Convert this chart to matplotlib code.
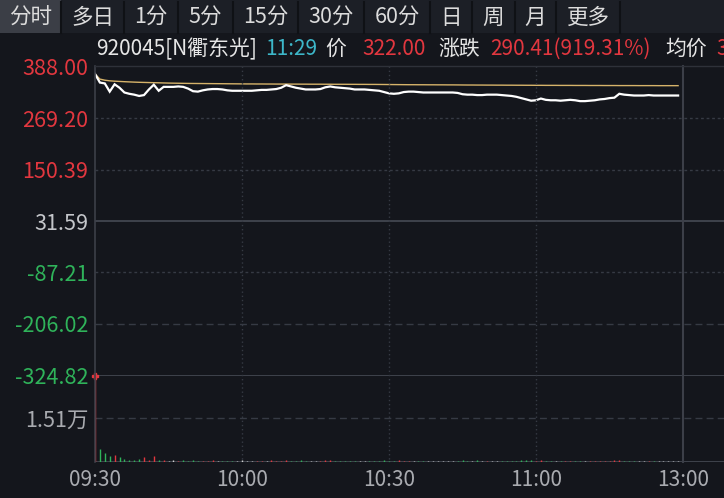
import matplotlib
matplotlib.use("Agg")
import matplotlib.pyplot as plt
from matplotlib.patches import Rectangle
from matplotlib.lines import Line2D

plt.rcParams['font.family'] = ['Noto Sans CJK SC', 'DejaVu Sans']

# ---------------- data ----------------
prev_close = 31.59
y_levels = [388.00, 269.20, 150.39, 31.59, -87.21, -206.02, -324.82]
y_labels = ["388.00", "269.20", "150.39", "31.59", "-87.21", "-206.02", "-324.82"]
vol_max = 30200
vol_tick = 15100
vol_tick_label = "1.51万"
time_ticks = [0, 30, 60, 90, 120]
time_labels = ["09:30", "10:00", "10:30", "11:00", "13:00"]

tabs = ["分时", "多日", "1分", "5分", "15分", "30分", "60分", "日", "周", "月", "更多"]

price = [
    372, 352, 350, 331, 348, 340, 329, 326, 324, 321,
    323, 336, 347, 333, 342, 342, 342, 343, 342, 338,
    332, 331, 334, 336, 337, 337, 336, 334, 333, 333,
    333, 333, 333, 334, 335, 335, 336, 337, 340, 346,
    343, 340, 338, 336, 336, 336, 337, 341, 343, 341,
    340, 339, 338, 336, 336, 336, 335, 334, 333, 330,
    327, 326, 327, 330, 331, 331, 330, 329, 329, 329,
    329, 329, 329, 329, 328, 325, 324, 324, 323, 323,
    324, 324, 324, 323, 322, 321, 319, 316, 313, 310,
    311, 315, 312, 311, 311, 310, 311, 312, 311, 309,
    309, 310, 311, 313, 314, 316, 317, 326, 324, 323,
    322, 322, 322, 323, 322, 322, 322, 322, 322, 322,
]

avg = [
    372.0, 360.0, 357.5, 356.0, 355.2, 354.6, 354.0, 353.5, 353.0, 352.6,
    352.3, 352.0, 351.7, 351.4, 351.1, 350.8, 350.6, 350.4, 350.2, 350.0,
    349.9, 349.8, 349.7, 349.6, 349.5, 349.4, 349.3, 349.2, 349.1, 349.0,
    348.9, 348.8, 348.8, 348.7, 348.7, 348.6, 348.6, 348.5, 348.5, 348.5,
    348.4, 348.4, 348.3, 348.3, 348.2, 348.2, 348.2, 348.1, 348.1, 348.0,
    348.0, 348.0, 347.9, 347.9, 347.8, 347.8, 347.7, 347.7, 347.6, 347.5,
    347.4, 347.3, 347.2, 347.1, 347.0, 347.0, 346.9, 346.9, 346.8, 346.8,
    346.7, 346.7, 346.6, 346.6, 346.5, 346.4, 346.3, 346.3, 346.2, 346.2,
    346.1, 346.1, 346.0, 346.0, 345.9, 345.9, 345.8, 345.8, 345.7, 345.7,
    345.6, 345.6, 345.5, 345.5, 345.5, 345.4, 345.4, 345.4, 345.3, 345.3,
    345.3, 345.2, 345.2, 345.2, 345.1, 345.1, 345.1, 345.0, 345.0, 345.0,
    345.0, 344.9, 344.9, 344.9, 344.9, 344.8, 344.8, 344.8, 344.8, 344.8,
]

volume = [
    29500, 4500, 3100, 2000, 2400, 1700, 1200, 900, 800, 1000,
    1900, 900, 2000, 700, 800, 600, 700, 500, 900, 600,
    800, 500, 600, 400, 700, 500, 600, 500, 400, 600,
    700, 500, 400, 600, 500, 400, 700, 600, 500, 900,
    600, 500, 700, 400, 500, 600, 400, 700, 800, 500,
    400, 500, 400, 600, 300, 400, 500, 400, 500, 700,
    600, 500, 700, 500, 400, 600, 500, 400, 500, 400,
    500, 600, 400, 500, 600, 700, 600, 500, 700, 500,
    400, 500, 600, 500, 400, 500, 600, 700, 800, 900,
    600, 700, 500, 400, 500, 600, 400, 500, 400, 500,
    600, 400, 500, 600, 500, 600, 700, 900, 600, 500,
    400, 500, 400, 500, 400, 500, 400, 500, 400, 500,
]

# ---------------- style ----------------
W, H = 724, 498
BG = "#14161c"
GRID = "#363a44"
RED = "#e2373f"
GREEN = "#2fb35a"
GREY = "#a9abb0"
WHITE = "#e6e6e6"
CYAN = "#3db7c9"
AVG_C = "#d6b36a"
PX_PER_MIN = 4.9
X0, XR = 95, 724
FS_AX = 15.5
FS_INFO = 15
FS_TAB = 15.5

fig = plt.figure(figsize=(W / 100, H / 100), dpi=100, facecolor=BG)


def fx(x):
    return x / W


def fy(y):
    return 1 - y / H


def add_ax(x0, y0, x1, y1):
    a = fig.add_axes([fx(x0), fy(y1), (x1 - x0) / W, (y1 - y0) / H])
    a.set_facecolor("none")
    for s in a.spines.values():
        s.set_visible(False)
    return a


# ---- toolbar ----
fig.patches.append(Rectangle((0, fy(33)), 1, 33 / H, transform=fig.transFigure,
                             facecolor="#1c1f26", edgecolor="none", zorder=0))
tab_bounds = [0, 61, 124, 178, 233, 298, 364, 430, 472, 515, 556, 620]
fig.patches.append(Rectangle((0, fy(33)), 61 / W, 33 / H, transform=fig.transFigure,
                             facecolor="#3b3e46", edgecolor="none", zorder=1))
for b in tab_bounds[1:]:
    fig.lines.append(Line2D([fx(b), fx(b)], [fy(2), fy(33)], transform=fig.transFigure,
                            color="#0f1115", lw=1.5, zorder=2))
for i, t in enumerate(tabs):
    cx = (tab_bounds[i] + tab_bounds[i + 1]) / 2
    fig.text(fx(cx), fy(18), t, color="#dcdcdc", fontsize=FS_TAB, ha="center", va="center", zorder=3)

# ---- info line ----
info = [("920045[N衢东光]", WHITE, 96), ("11:29", CYAN, 265), ("价", WHITE, 325),
        ("322.00", RED, 362), ("涨跌", WHITE, 438), ("290.41(919.31%)", RED, 490),
        ("均价", WHITE, 665), ("3", RED, 716)]
for t, c, x in info:
    fig.text(fx(x), fy(49), t, color=c, fontsize=FS_INFO, ha="left", va="center")

# top border of plot area
fig.lines.append(Line2D([fx(X0), 1], [fy(66), fy(66)], transform=fig.transFigure,
                        color="#2e3139", lw=1))

xmax = (XR - X0) / PX_PER_MIN
minutes = list(range(len(price)))

# ---- price axes ----
ax = add_ax(X0, 67, XR, 375)
ax.set_xlim(0, xmax)
ax.set_ylim(y_levels[-1], y_levels[0])
styles = {269.20: (0, (2, 2)), 150.39: (0, (2, 2)), -87.21: (0, (2, 2)), -206.02: (0, (5, 3))}
for lv in y_levels[1:-1]:
    if lv == prev_close:
        ax.axhline(lv, color="#464a54", lw=1.2, zorder=1)
    else:
        ax.axhline(lv, color=GRID, lw=1, ls=styles[lv], zorder=1)
ax.plot(minutes, avg, color=AVG_C, lw=1.0, zorder=3)
ax.plot(minutes, price, color="white", lw=1.6, zorder=4, solid_joinstyle="miter")
ax.set_yticks(y_levels)
ax.set_yticklabels(y_labels)
ax.tick_params(axis="y", length=0, pad=5, labelsize=FS_AX)
ax.tick_params(axis="x", length=0, labelbottom=False)
for lab, lv in zip(ax.get_yticklabels(), y_levels):
    lab.set_color(RED if lv > prev_close else (GREEN if lv < prev_close else "#c4c6ca"))
ax.set_xticks([])

# ---- volume axes ----
vax = add_ax(X0, 374.5, XR, 462.3)
vax.set_xlim(0, xmax)
vax.set_ylim(0, vol_max)
vax.axhline(vol_max, color="#464a54", lw=1.2, zorder=1)
vax.axhline(vol_tick, color=GRID, lw=1, ls=(0, (5, 3)), zorder=1)
vax.axhline(0, color="#464a54", lw=1.2, zorder=1)
colors = []
for i, p in enumerate(price):
    ref = prev_close if i == 0 else price[i - 1]
    colors.append(RED if p > ref else (GREEN if p < ref else "#d0d0d0"))
vax.vlines(minutes, 0, volume, colors=colors, lw=1.0, zorder=3)
vax.plot([0], [vol_max * 0.985], marker="P", color=RED, ms=5, zorder=5, clip_on=False)
vax.set_yticks([vol_tick])
vax.set_yticklabels([vol_tick_label])
vax.tick_params(axis="y", length=0, pad=5, labelsize=FS_AX, labelcolor=GREY)
vax.set_xticks(time_ticks)
vax.set_xticklabels(time_labels)
vax.tick_params(axis="x", length=0, pad=5, labelsize=15, labelcolor=GREY)

# ---- vertical lines across both panels ----
for t in time_ticks[1:]:
    xpix = X0 + t * PX_PER_MIN
    if t == 120:
        fig.lines.append(Line2D([fx(xpix)] * 2, [fy(66), fy(462)], transform=fig.transFigure,
                                color="#3c3f48", lw=1.5, zorder=1))
    else:
        fig.lines.append(Line2D([fx(xpix)] * 2, [fy(66), fy(462)], transform=fig.transFigure,
                                color=GRID, lw=1, ls=(0, (1, 2)), zorder=1))
fig.lines.append(Line2D([fx(X0)] * 2, [fy(66), fy(462)], transform=fig.transFigure,
                        color="#3c3f48", lw=1.2, zorder=1))

fig.savefig("out.png", dpi=100, facecolor=BG)
